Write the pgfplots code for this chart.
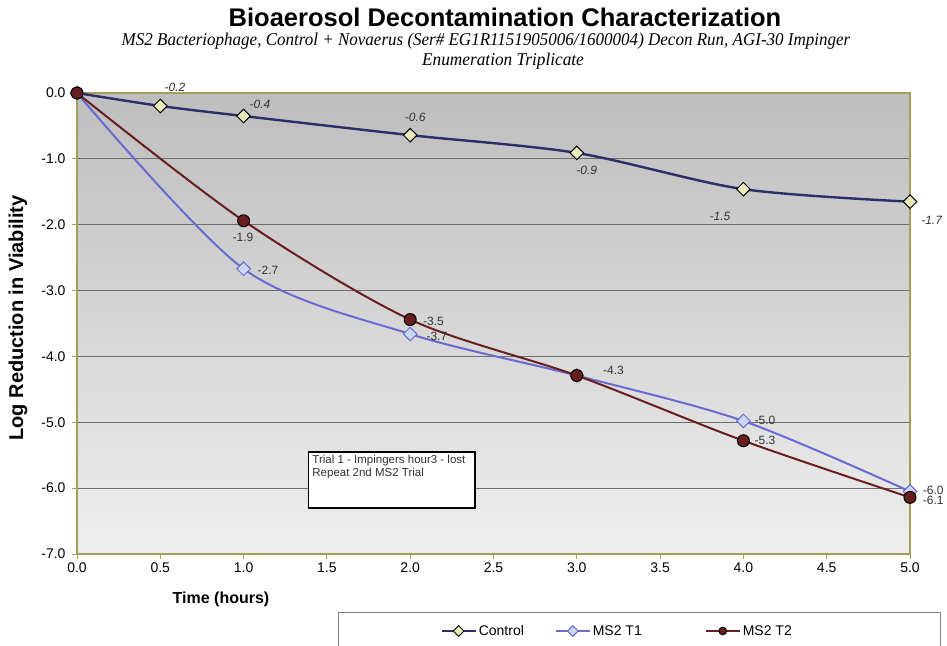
\documentclass[border=0pt]{standalone}
\usepackage{fontspec}
\setmainfont{Liberation Sans}
\newfontfamily\timesf{Liberation Serif}
\usepackage{pgfplots}
\pgfplotsset{compat=1.18}
\definecolor{ctrl}{RGB}{45,45,105}
\definecolor{ctrlfill}{RGB}{236,235,190}
\definecolor{tone}{RGB}{105,105,210}
\definecolor{tonefill}{RGB}{200,216,240}
\definecolor{ttwo}{RGB}{105,30,30}
\definecolor{frame}{RGB}{160,160,90}
\definecolor{gridc}{RGB}{110,110,110}
\definecolor{lab}{RGB}{50,50,50}
\begin{document}
\begin{tikzpicture}[x=1pt,y=1pt]
\path[use as bounding box] (0,0) rectangle (947,-645);
% titles
\node[anchor=base,font=\fontsize{25.5}{25.5}\selectfont\bfseries] at (505,-26) {Bioaerosol Decontamination Characterization};
\node[anchor=base,font=\fontsize{18}{18}\selectfont\timesf\itshape] at (486,-45) {\scalebox{0.945}[1]{MS2 Bacteriophage, Control + Novaerus (Ser\# EG1R1151905006/1600004) Decon Run, AGI-30 Impinger}};
\node[anchor=base,font=\fontsize{18}{18}\selectfont\timesf\itshape] at (503,-65) {\scalebox{0.96}[1]{Enumeration Triplicate}};
\begin{axis}[
  at={(77pt,-554pt)}, anchor=south west,
  width=833pt, height=461pt, scale only axis,
  xmin=0, xmax=5, ymin=-7, ymax=0,
  xtick={0,0.5,...,5}, ytick={-7,-6,...,0},
  xtick pos=bottom, ytick pos=left,
  tick align=outside, major tick length=5pt,
  every tick/.style={frame, line width=1pt},
  axis line style={frame, line width=1.2pt},
  axis background/.style={top color={rgb,255:red,190;green,190;blue,190}, bottom color={rgb,255:red,238;green,238;blue,238}},
  ymajorgrids, grid style={gridc, line width=1pt},
  /pgf/number format/assume math mode=true,
  xticklabel style={/pgf/number format/.cd, fixed, fixed zerofill, precision=1},
  yticklabel style={xshift=-3pt, /pgf/number format/.cd, fixed, fixed zerofill, precision=1},
  tick label style={font=\fontsize{14}{14}\selectfont, text=black},
  clip=false,
  legend columns=3,
  legend style={at={(rel axis cs:0.436,-0.167)}, anchor=west, draw=none, fill=none, font=\fontsize{14}{14}\selectfont, inner sep=0pt},
  legend image code/.code={\draw[mark repeat=2,mark phase=2,mark size=3.8pt] plot coordinates {(0pt,0pt) (17pt,0pt) (34pt,0pt)};},
]
\addplot[ctrl, line width=2.4pt, smooth, tension=0.5, mark=square*, mark size=4.8pt, mark options={rotate=45, fill=ctrlfill, draw=black, line width=1pt, solid}]
 coordinates {(0,0) (0.5,-0.197) (1,-0.35) (2,-0.64) (3,-0.91) (4,-1.46) (5,-1.65)};
\addlegendentry{\makebox[74pt][l]{Control}}
\addplot[tone, line width=2pt, smooth, tension=0.5, mark=square*, mark size=4.8pt, mark options={rotate=45, fill=tonefill, draw=tone, line width=1pt, solid}]
 coordinates {(0,0) (1,-2.67) (2,-3.66) (3,-4.29) (4,-4.98) (5,-6.05)};
\addlegendentry{\makebox[110pt][l]{MS2 T1}}
\addplot[ttwo, line width=2pt, smooth, tension=0.5, mark=*, mark size=6pt, mark options={fill=ttwo, draw=black, line width=1pt, solid}]
 coordinates {(0,0) (1,-1.94) (2,-3.44) (3,-4.29) (4,-5.28) (5,-6.14)};
\addlegendentry{MS2 T2}
% data labels
\begin{scope}[every node/.style={font=\fontsize{12}{12}\selectfont\itshape, text=lab}]
\node at (axis cs:0.588,0.09) {-0.2};
\node at (axis cs:1.098,-0.167) {-0.4};
\node at (axis cs:2.03,-0.364) {-0.6};
\node at (axis cs:3.06,-1.17) {-0.9};
\node at (axis cs:3.86,-1.87) {-1.5};
\node at (axis cs:5.13,-1.94) {-1.7};
\end{scope}
\begin{scope}[every node/.style={font=\fontsize{12}{12}\selectfont, text=lab}]
\node at (axis cs:1.146,-2.69) {-2.7};
\node at (axis cs:2.16,-3.69) {-3.7};
\node at (axis cs:4.13,-4.97) {-5.0};
\node at (axis cs:5.14,-6.03) {-6.0};
\node at (axis cs:0.996,-2.19) {-1.9};
\node at (axis cs:2.14,-3.46) {-3.5};
\node at (axis cs:3.22,-4.21) {-4.3};
\node at (axis cs:4.13,-5.28) {-5.3};
\node at (axis cs:5.14,-6.19) {-6.1};
\end{scope}
% note box
\draw[black, line width=1.5pt, fill=white] (axis cs:1.39,-5.45) rectangle (axis cs:2.39,-6.30);
\node[anchor=north west, align=left, inner sep=2pt, font=\fontsize{11.5}{13}\selectfont, text=lab] at (axis cs:1.40,-5.47) {Trial 1 - Impingers hour3 - lost\\Repeat 2nd MS2 Trial};
\end{axis}
% axis labels
\node[rotate=90, font=\fontsize{20}{20}\selectfont\bfseries] at (18,-318) {Log Reduction in Viability};
\node[font=\fontsize{16}{16}\selectfont\bfseries] at (221,-599) {Time (hours)};
% legend frame
\draw[gray, line width=1pt] (338,-612) rectangle (940,-660);
\end{tikzpicture}
\end{document}
